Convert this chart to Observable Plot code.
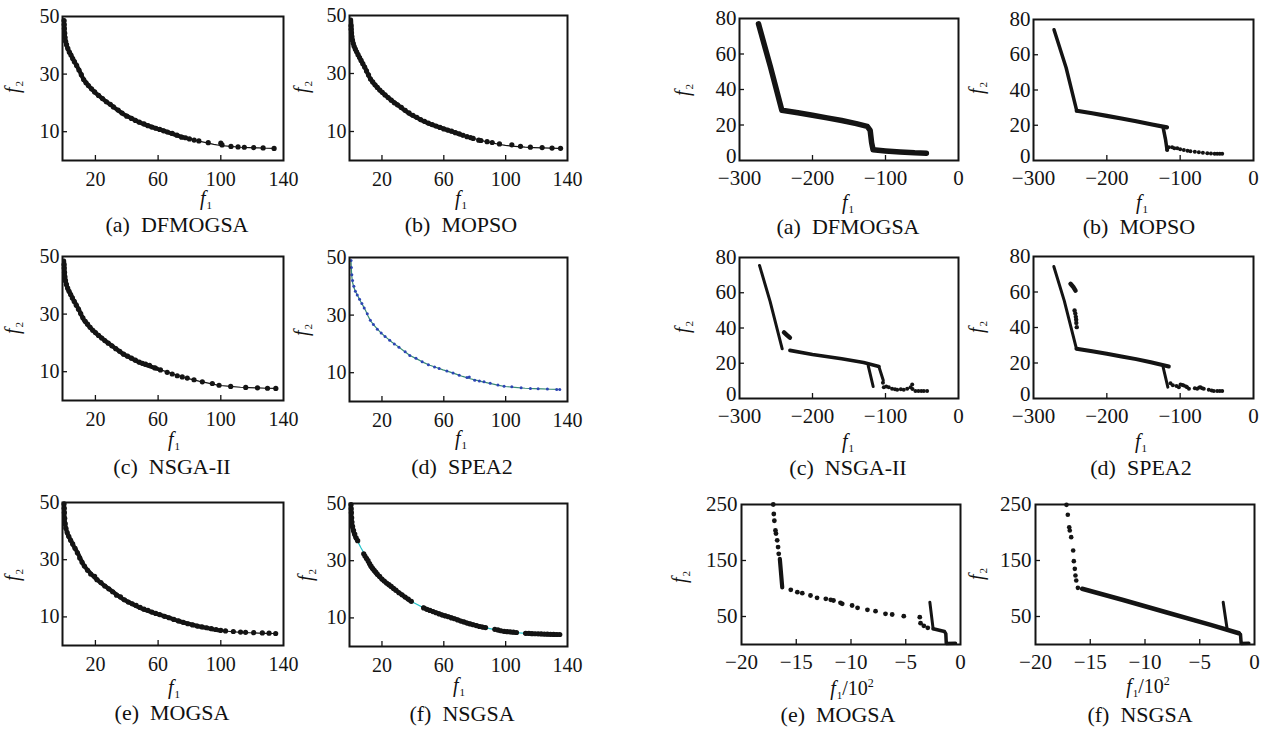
<!DOCTYPE html>
<html><head><meta charset="utf-8">
<script src="https://cdn.jsdelivr.net/npm/d3@7"></script>
<script src="https://cdn.jsdelivr.net/npm/@observablehq/plot@0.6"></script>
<style>
body{margin:0;background:#fff;}
#fig{position:relative;width:1268px;height:731px;background:#fff;font-family:"Liberation Serif","Times New Roman",serif;color:#111;overflow:hidden}
.panel{position:absolute;}
.cap{position:absolute;font-size:22px;white-space:pre;transform:translate(-50%,-50%);line-height:22px}
.lab{position:absolute;font-size:20px;transform:translate(-50%,-50%);line-height:16px;white-space:nowrap}
.lab i{font-style:italic}
.lab .sb{font-size:11px;position:relative;top:4px;margin-left:1px}
.lab .sp{font-size:12px;position:relative;top:-8px}
.ylab{transform:translate(-50%,-50%) rotate(-90deg);}
</style></head>
<body><div id="fig"></div>
<script>
// ---------- shared front of the left block (f1, f2) ----------
const LEFT_CURVE = [[0,48.6],[0.2,46],[0.4,44],[0.9,41.5],[2,39.3],[3,38],[4.1,37],[5.2,35.8],[6.2,34.7],[7.8,33.2],[9.4,31.6],[11,29.7],[12.6,28],[14.8,26.5],[16.9,25.2],[20,23.5],[23.3,22],[26.5,20.6],[29.6,19.4],[34,17.6],[38.1,16],[42.5,14.8],[46.7,13.6],[51,12.6],[55.2,11.8],[59.5,11],[63.7,10.3],[68,9.5],[72.2,8.7],[76.5,8],[80.7,7.4],[86,6.7],[91.3,6.1],[95.5,5.6],[99.8,5.2],[106,4.9],[112.6,4.6],[118,4.45],[124,4.35],[129,4.25],[134,4.2]];

const A_DOTS = [[0,48.6],[0.1,47.2],[0.2,45.8],[0.4,44.2],[0.6,42.8],[1,41.4],[1.6,40.2],[2.4,38.9],[3.4,37.6],[4.4,36.6],[5.5,35.4],[6.6,34.3],[8,33],[9.5,31.4],[11,29.8],[12.5,28.1],[14,27],[15.5,26],[17.5,24.9],[19.5,23.8],[22,22.6],[24.5,21.5],[27,20.4],[29.5,19.5],[31.5,18.6],[34.5,17.5],[37,16.5],[40,15.4],[43,14.6],[45.5,13.9],[48,13.3],[51,12.7],[53.5,12.1],[56,11.6],[58.5,11.2],[61,10.8],[63.5,10.3],[66,9.9],[69,9.4],[72,8.8],[75,8.1],[77.5,7.9],[80,7.5],[83,7.1],[86,6.8],[92,6.2],[100,6.0],[100.8,5.4],[106.5,4.9],[111,4.7],[115,4.6],[121,4.5],[127,4.35],[134,4.2]];
const B_DOTS = [[0,46.5],[0.1,45.3],[0.3,44],[0.5,42.8],[0.9,41.5],[1.4,40.4],[2,39.4],[2.8,38.4],[3.6,37.5],[4.5,36.5],[5.5,35.5],[6.5,34.5],[7.6,33.4],[8.8,32.2],[10,30.9],[11.3,29.5],[12.6,28.1],[14,27.1],[15.5,26.1],[17,25.2],[18.6,24.3],[20.2,23.5],[22,22.6],[24,21.7],[26,20.8],[28,19.9],[30,19.2],[32.5,18.3],[35,17.3],[37.5,16.4],[40,15.6],[42.5,14.9],[45,14.1],[47.5,13.5],[50,12.9],[52.5,12.4],[55,11.9],[57.5,11.4],[60,10.9],[62.5,10.5],[65,10.1],[67.5,9.6],[70,9.2],[72.5,8.7],[75,8.2],[77.3,7.9],[79,7.6],[82.6,7.0],[84,6.9],[88,6.5],[91.3,6.2],[96,5.7],[104,5.4],[109.6,4.9],[116,4.6],[123.6,4.45],[130,4.3],[135.5,4.2]];
const C_DOTS = [[0,47.2],[0.1,46],[0.3,44.5],[0.5,43],[0.9,41.6],[1.5,40.3],[2.3,39],[3.2,37.9],[4.2,36.8],[5.3,35.6],[6.5,34.4],[7.8,33.1],[9.2,31.7],[10.6,30.2],[12,28.7],[13.5,27.5],[15,26.5],[16.6,25.4],[18.3,24.4],[20,23.6],[22,22.6],[24,21.7],[26,20.8],[28.2,19.9],[30.5,19],[33,18],[35.5,17.1],[38,16.1],[40.5,15.4],[43,14.7],[45.5,14],[48,13.3],[50,12.9],[52,12.6],[54.5,12.2],[58,11.3],[61.5,10.6],[65.8,9.8],[69,9.2],[72.2,8.6],[75.4,8.2],[78.6,7.8],[82.9,7.2],[88.2,6.5],[94.6,5.9],[98.9,5.3],[106.3,4.9],[115.9,4.55],[123.4,4.4],[129.8,4.25],[135.1,4.2]];
const D_DOTS = [[0,49],[0.2,46.5],[0.5,44],[1,42],[1.8,40],[2.8,38.3],[4,37],[5.5,35.5],[7,34],[8.5,32.5],[10.5,30.5],[12.5,28.2],[14.5,26.7],[17,25.1],[19.5,23.8],[22,22.6],[25,21.3],[28,20],[31,18.8],[35,17.3],[38,16],[42,15],[46,13.8],[50,12.8],[54,12],[57,11.5],[62,10.6],[66,9.9],[70,9.1],[75,8.3],[76.5,8.5],[80,7.4],[83,7.1],[86,6.9],[90,6.3],[95,5.7],[99,5.3],[104,5.1],[110,4.8],[116,4.55],[121,4.45],[127,4.35],[133,4.2],[135,4.2]];
const E_DOTS = [[0,49.5],[0.1,48],[0.2,46.5],[0.4,44.5],[0.7,42.6],[1.2,41],[2,39.5],[3,38.2],[4.2,36.8],[5.5,35.5],[7,34],[8.5,32.4],[10,30.6],[11.5,29.1],[13,27.8],[15,26.3],[17,25],[19.5,24.2],[21,23],[23.5,22],[26,20.8],[28.5,19.8],[31,18.8],[33.5,17.6],[36,17],[38.5,16],[41,15.2],[43.5,14.6],[46,14],[48.5,13.3],[51,12.7],[53.5,12.3],[56,11.7],[58.5,11.2],[61,10.8],[64,10.2],[67,9.7],[70,9.1],[73,8.6],[76,8.1],[79,7.6],[82,7.2],[85,6.8],[88,6.5],[91,6.2],[94,5.9],[97,5.6],[100,5.3],[103,5.1],[108,4.9],[112.6,4.7],[115.8,4.6],[121,4.5],[126.5,4.4],[130.8,4.3],[135,4.2]];
const F_DOTS = [[0,49.6],[0.1,48.2],[0.2,46.8],[0.4,45],[0.6,43.5],[1,42],[1.6,40.6],[2.4,39.3],[3.3,38],[4.3,37],[8.2,32.4],[9,31.6],[10,30.8],[11,30],[12,29],[13,28.1],[14,27.3],[15,26.6],[16,26],[17,25.3],[18.5,24.5],[20,23.6],[21.5,22.9],[23,22.2],[24.5,21.6],[26,21],[27.5,20.3],[29,19.7],[31,18.8],[33,18.1],[35,17.3],[37,16.6],[39,15.8],[47,13.5],[49,13],[51,12.6],[53,12.2],[55,11.8],[57,11.4],[59,11],[61,10.7],[63,10.4],[65,10],[67,9.7],[69,9.3],[71,8.9],[73,8.6],[75,8.2],[77,7.9],[79,7.6],[81,7.3],[83,7],[85,6.8],[87,6.6],[93,6],[95,5.8],[97,5.5],[99,5.3],[101,5.2],[103,5.1],[105,5],[107,4.9],[113,4.6],[115,4.6],[117,4.5],[119,4.45],[121,4.42],[123,4.4],[125,4.35],[127,4.3],[129,4.25],[131,4.22],[133,4.2],[135,4.2]];

// ---------- right upper block ----------
const RA_LINE = [[-274,77],[-257.5,52.6],[-242,28.3],[-220,26.9],[-200,25.5],[-180,24],[-160,22.5],[-140,20.8],[-125,19.2],[-121,17],[-119,10],[-117,6],[-100,5.4],[-80,4.8],[-60,4.3],[-44,4.1]];
const RB_UP = [[-272,74.2],[-255.5,52.6],[-241,28.2]];
const RB_BAND = [[-241,28.2],[-220,26.8],[-200,25.3],[-180,23.8],[-160,22.3],[-140,20.6],[-118,18.8]];
const RB_DROP = [[-123,18.2],[-120,12],[-118,6.2]];
const RB_DOTS = [[-117.7,6],[-115.5,7.5],[-111,7.5],[-108,7],[-104,6.9],[-100,6.4],[-95,6],[-90,5.6],[-86,5.3],[-80,5],[-74.5,4.7],[-69,4.4],[-63,4.1],[-58,4],[-53,3.9],[-49.5,3.8],[-46,3.8],[-42.7,3.8]];
const RC_UP = [[-272.6,75.5],[-258,55],[-241.5,28.2]];
const RC_CLUSTER = [[-239,37.5],[-235,36],[-231,34.5]];
const RC_BAND = [[-231,27.3],[-200,25],[-160,22.5],[-130,20.4],[-109,18.2]];
const RC_DROP1 = [[-123.7,18.7],[-116.9,6.8]];
const RC_DROP2 = [[-109,18],[-103,10.2]];
const RC_DOTS = [[-103.5,9],[-102.3,6.4],[-99,6.8],[-95.5,6.4],[-91,5.5],[-87,5.2],[-84,5],[-79,5.2],[-75,5],[-70.3,5.5],[-65.7,6.4],[-63.4,7.9],[-63,5.4],[-59,4.2],[-55,4.2],[-51,4.2],[-47.5,4.2],[-43,4.2]];
const RD_UP = [[-272.3,74.4],[-258,55],[-241.4,28]];
const RD_CLUSTER = [[-249.5,64.6],[-246,63],[-242.7,60.8]];
const RD_DOTS_MID = [[-244,49.6],[-243,47.9],[-242.3,46],[-241.8,44.4],[-241.6,42.6],[-241,40.2]];
const RD_BAND = [[-241.4,28],[-220,26.6],[-200,25.2],[-180,23.7],[-160,22.2],[-140,20.4],[-115.5,18]];
const RD_DROP = [[-123.2,17.6],[-116.8,6.4]];
const RD_DOTS = [[-113.2,8.6],[-110,7.4],[-105,7],[-101.8,6.4],[-99.5,7.9],[-97,7.6],[-95,7.3],[-92,6.8],[-90.5,6.4],[-88,5.5],[-80,5.8],[-76.8,5.5],[-74,6.2],[-72.3,6.4],[-70,5.8],[-67.8,5.5],[-61,5],[-57,4.5],[-54.1,4.2],[-49.5,4.2],[-46,4.2],[-42.7,4.2]];

// ---------- right lower block (f1/10^2, f2) ----------
const RE_DOTS_TOP = [[-17.1,250],[-17.05,233],[-17,221],[-16.9,203.6],[-16.85,198],[-16.74,186],[-16.66,174],[-16.6,162]];
const RE_STEEP = [[-16.5,153],[-16.28,102]];
const RE_DOTS = [[-15.5,97.6],[-14.9,93.5],[-14.45,91.7],[-13.7,87.5],[-13.1,83.3],[-12.3,81.5],[-11.85,79.8],[-11.6,78.6],[-10.96,74.4],[-10.8,72.6],[-9.9,69.6],[-9.4,65.5],[-8.5,62],[-7.76,59.5],[-6.85,54.8],[-6.24,53.6],[-5.18,50.6],[-3.72,48.8],[-3.65,38],[-3.35,33.3],[-2.99,29.8]];
const RE_SPIKE = [[-2.8,75.6],[-2.5,28]];
const RE_TAIL = [[-2.5,28],[-1.46,23.2],[-1.34,19],[-1.3,2],[-0.46,2.2]];
const RF_DOTS = [[-17.17,249.4],[-17.05,231.6],[-16.92,209.5],[-16.87,203.6],[-16.74,191.7],[-16.56,167.9],[-16.5,148.8],[-16.41,135.1],[-16.35,123.2],[-16.28,114.3],[-16.13,101.2]];
const RF_BAND = [[-15.74,99.4],[-12,79.5],[-8,57],[-4,35],[-1.43,20.2]];
const RF_SPIKE = [[-2.86,75.6],[-2.49,26.2]];
const RF_TAIL = [[-1.43,20.2],[-1.28,17.9],[-1.22,2],[-0.52,2.4]];

// ---------- ticks / labels ----------
const L_XTICKS = [20,60,100,140], L_YTICKS = [10,30,50];
const RU_XTICKS = [-300,-200,-100,0], RU_YTICKS = [20,40,60,80], RU_YTICK0 = [0];
const RL_XTICKS = [-20,-15,-10,-5,0], RL_YTICKS = [50,150,250];
const CAPTIONS_L = ["(a)  DFMOGSA","(b)  MOPSO","(c)  NSGA-II","(d)  SPEA2","(e)  MOGSA","(f)  NSGSA"];
const CAPTIONS_R = ["(a)  DFMOGSA","(b)  MOPSO","(c)  NSGA-II","(d)  SPEA2","(e)  MOGSA","(f)  NSGSA"];

const X = d => d[0], Y = d => d[1];
const INK = "#141414";
const SERIF = '"Liberation Serif", "Times New Roman", serif';
const fig = document.getElementById("fig");

function line(data, w, color=INK){ return Plot.line(data,{x:X,y:Y,stroke:color,strokeWidth:w,strokeLinecap:"round",strokeLinejoin:"round"}); }
function dots(data, r, color=INK){ return Plot.dot(data,{x:X,y:Y,r,fill:color,stroke:"none"}); }

function addText(cls, html, x, y){
  const d = document.createElement("div"); d.className = cls; d.innerHTML = html;
  d.style.left = x+"px"; d.style.top = y+"px"; fig.appendChild(d);
}

function panel(p){
  const [x0,y0,x1,y1] = p.frame, w = x1-x0, h = y1-y0;
  const mL=52, mR=24, mT=14, mB=40;
  const extra = p.yt0 ? [Plot.axisY(p.yt0,{tickSize:0, tickPadding:p.yp, label:null, fill:INK, fontFamily:SERIF, fontSize:p.fs, dy:-4})] : [];
  const svg = Plot.plot({
    width:w+mL+mR, height:h+mT+mB, marginLeft:mL, marginRight:mR, marginTop:mT, marginBottom:mB,
    style:{fontFamily:SERIF, fontSize:p.fs+"px", background:"transparent", overflow:"visible", color:INK},
    x:{domain:p.xd, label:null}, y:{domain:p.yd, label:null},
    marks:[
      ...p.marks,
      Plot.ruleX(p.xin,{x:d=>d, insetTop:h-5, stroke:INK, strokeWidth:1.3}),
      Plot.ruleY(p.yin,{y:d=>d, insetRight:w-5, stroke:INK, strokeWidth:1.3}),
      Plot.axisX(p.xt,{tickSize:0, tickPadding:p.xp, label:null, fill:INK, fontFamily:SERIF, fontSize:p.fs}),
      Plot.axisY(p.yt,{tickSize:0, tickPadding:p.yp, label:null, fill:INK, fontFamily:SERIF, fontSize:p.fs}),
      ...extra,
      Plot.frame({stroke:INK, strokeWidth:2})
    ]
  });
  svg.classList.add("panel");
  svg.style.left=(x0-mL)+"px"; svg.style.top=(y0-mT)+"px";
  fig.appendChild(svg);
  addText("cap", p.cap, p.capXY[0], p.capXY[1]);
  addText("lab", p.xl, p.xlXY[0], p.xlXY[1]);
  addText("lab ylab", '<i>f</i><span class="sb">2</span>', p.ylXY[0], p.ylXY[1]);
}

const F1 = '<i>f</i><span class="sb">1</span>';
const F1S = '<i>f</i><span class="sb">1</span>/10<span class="sp">2</span>';

// left block
const leftCfg = [
  {frame:[62,16,283,160], d:A_DOTS, bands:[[0,80]], cap:CAPTIONS_L[0], capXY:[177,225], xlXY:[206,199], ylXY:[13,87]},
  {frame:[349,15,567,160], d:B_DOTS, bands:[[0,76]], cap:CAPTIONS_L[1], capXY:[461,225], xlXY:[461,199], ylXY:[302,87]},
  {frame:[62,256,283,400], d:C_DOTS, bands:[[0,60]], cap:CAPTIONS_L[2], capXY:[172,467], xlXY:[174,440], ylXY:[13,328]},
  {frame:[349,257,567,401], d:D_DOTS, bands:[], cap:CAPTIONS_L[3], capXY:[462,467], xlXY:[461,439], ylXY:[302,330], dc:"#2d44b4", lc:"#3a8c78", r:1.5},
  {frame:[62,502,283,645], d:E_DOTS, bands:[[0,100]], cap:CAPTIONS_L[4], capXY:[172,713], xlXY:[174,688], ylXY:[13,575]},
  {frame:[349,503,567,646], d:F_DOTS, bands:[[0,5],[10,40],[46,88],[92,108],[112,135]], cap:CAPTIONS_L[5], capXY:[462,714], xlXY:[459,686], ylXY:[306,575], lc:"#22c2c8"}
];
for (const c of leftCfg){
  const dc = c.dc || INK, lc = c.lc || INK;
  const marks = [line(LEFT_CURVE, 1.2, lc)];
  for (const [a,b] of c.bands) marks.push(line(LEFT_CURVE.filter(d=>d[0]>=a && d[0]<=b), 4.2, dc));
  marks.push(dots(c.d, c.r || 2.6, dc));
  panel({frame:c.frame, xd:[-1,140], yd:[0,50], xt:L_XTICKS, yt:L_YTICKS, xin:[20,60,100], yin:[10,30], xp:11, yp:3, fs:20,
    marks, cap:c.cap, capXY:c.capXY, xl:F1, xlXY:c.xlXY, ylXY:c.ylXY});
}

// right upper block
const ru = {xd:[-300,0], yd:[0,80], xt:RU_XTICKS, yt:RU_YTICKS, yt0:RU_YTICK0, xin:[-200,-100], yin:[20,40,60], xp:10, yp:3, fs:21, xl:F1};
panel({...ru, frame:[739,18,958,160], marks:[line(RA_LINE,5.5)], cap:CAPTIONS_R[0], capXY:[848,227], xlXY:[848,203], ylXY:[683,90]});
panel({...ru, frame:[1033,19,1253,160], marks:[line(RB_UP,3.5), line(RB_BAND,4.2), line(RB_DROP,3.5), dots(RB_DOTS,2)], cap:CAPTIONS_R[1], capXY:[1139,227], xlXY:[1142,203], ylXY:[977,88]});
panel({...ru, frame:[739,257,958,398], marks:[line(RC_UP,3), line(RC_CLUSTER,4.5), line(RC_BAND,3.6), line(RC_DROP1,3), line(RC_DROP2,3), dots(RC_DOTS,2)], cap:CAPTIONS_R[2], capXY:[848,468], xlXY:[848,442], ylXY:[683,327]});
panel({...ru, frame:[1033,256,1253,398], marks:[line(RD_UP,3), line(RD_CLUSTER,4.5), dots(RD_DOTS_MID,2.2), line(RD_BAND,4), line(RD_DROP,3), dots(RD_DOTS,2)], cap:CAPTIONS_R[3], capXY:[1141,468], xlXY:[1141,442], ylXY:[977,327]});

// right lower block
const rl = {xd:[-20,0], yd:[0,250], xt:RL_XTICKS, yt:RL_YTICKS, xin:[-15,-10,-5], yin:[50,150], xp:10, yp:4, fs:21, xl:F1S};
panel({...rl, frame:[741,504,960,644], marks:[dots(RE_DOTS_TOP,2.4), line(RE_STEEP,4.2), dots(RE_DOTS,2.4), line(RE_SPIKE,3), line(RE_TAIL,3.5)], cap:CAPTIONS_R[4], capXY:[838,715], xlXY:[852,689], ylXY:[680,577]});
panel({...rl, frame:[1035,504,1254,644], marks:[dots(RF_DOTS,2.3), line(RF_BAND,4.6), line(RF_SPIKE,3), line(RF_TAIL,3.5)], cap:CAPTIONS_R[5], capXY:[1140,715], xlXY:[1148,687], ylXY:[977,574]});
</script>
</body></html>
